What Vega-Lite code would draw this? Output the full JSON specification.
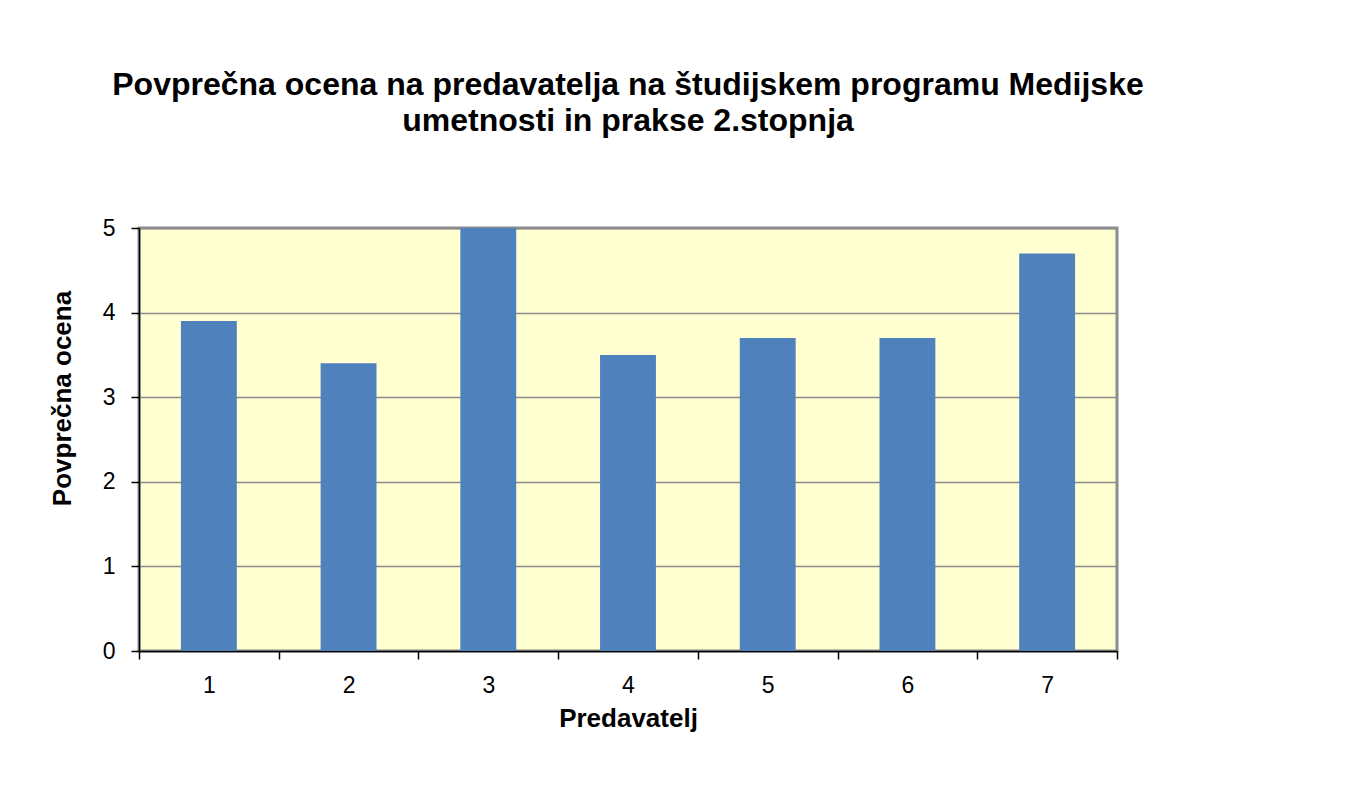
{
  "$schema": "https://vega.github.io/schema/vega-lite/v6.json",
  "autosize": "none",
  "width": 978,
  "height": 423,
  "padding": {"left": 139, "top": 228, "right": 253, "bottom": 136},
  "background": "white",
  "title": {
    "text": ["Povprečna ocena na predavatelja na študijskem programu Medijske", "umetnosti in prakse 2.stopnja"],
    "font": "Liberation Sans",
    "fontSize": 32,
    "fontWeight": "bold",
    "color": "#000000",
    "anchor": "middle",
    "lineHeight": 36,
    "offset": 79
  },
  "data": {
    "values": [
      {"Predavatelj": "1", "ocena": 3.9},
      {"Predavatelj": "2", "ocena": 3.4},
      {"Predavatelj": "3", "ocena": 5.0},
      {"Predavatelj": "4", "ocena": 3.5},
      {"Predavatelj": "5", "ocena": 3.7},
      {"Predavatelj": "6", "ocena": 3.7},
      {"Predavatelj": "7", "ocena": 4.7}
    ]
  },
  "mark": {"type": "bar", "color": "#4F81BD", "width": {"band": 0.4}},
  "encoding": {
    "x": {
      "field": "Predavatelj",
      "type": "ordinal",
      "title": "Predavatelj",
      "scale": {"paddingInner": 0, "paddingOuter": 0},
      "axis": {
        "labelAngle": 0,
        "tickBand": "extent",
        "labelFont": "Liberation Sans",
        "labelFontSize": 23,
        "labelColor": "#000000",
        "domainColor": "#000000",
        "tickColor": "#000000",
        "tickSize": 8,
        "labelPadding": 15,
        "titlePadding": 8
      }
    },
    "y": {
      "field": "ocena",
      "type": "quantitative",
      "title": "Povprečna ocena",
      "scale": {"domain": [0, 5], "nice": false},
      "axis": {
        "values": [0, 1, 2, 3, 4, 5],
        "labelFont": "Liberation Sans",
        "labelFontSize": 23,
        "labelColor": "#000000",
        "domainColor": "#000000",
        "tickColor": "#000000",
        "tickSize": 8,
        "labelPadding": 16,
        "gridColor": "#8c8c8c",
        "gridWidth": 1.5,
        "titlePadding": 27,
        "titleY": 170
      }
    }
  },
  "config": {
    "view": {"fill": "#FFFFD2", "stroke": "#8c8c8c", "strokeWidth": 3},
    "axis": {
      "titleFont": "Liberation Sans",
      "titleFontSize": 26,
      "titleFontWeight": "bold",
      "titleColor": "#000000",
      "domainWidth": 1.5,
      "tickWidth": 1.5
    }
  }
}
